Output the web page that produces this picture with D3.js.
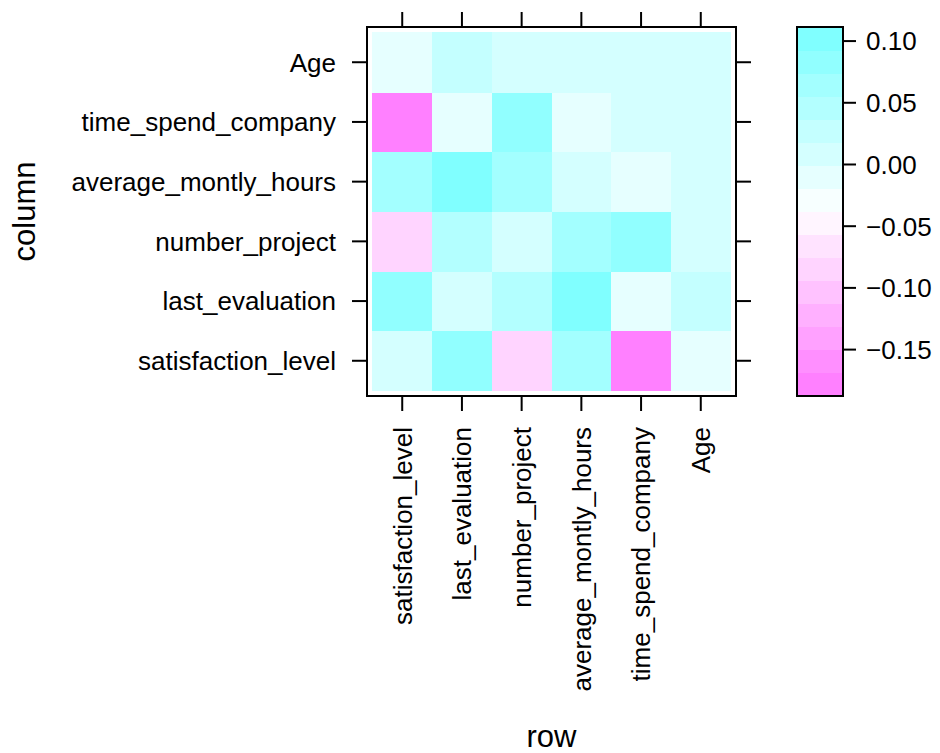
<!DOCTYPE html>
<html>
<head>
  <meta charset="UTF-8">
  <title>levelplot</title>
  <script src="https://d3js.org/d3.v7.min.js"></script>
  <style>
    body { margin: 0; padding: 0; background: #fff; }
    svg { display: block; font-family: "Liberation Sans", Arial, Helvetica, sans-serif; }
    .tick-label { font-size: 26px; fill: #000; }
    .axis-title { font-size: 31px; fill: #000; }
  </style>
</head>
<body>
  <div id="chart"></div>

  <script>
    // variable names, same order on both axes (x = "row", y = "column")
    const variables = ["satisfaction_level", "last_evaluation", "number_project",
                       "average_montly_hours", "time_spend_company", "Age"];

    // one array per y variable, values given in x order
    const satisfactionLevel  = [0.006, 0.083, -0.086, 0.064, -0.188, -0.010];
    const lastEvaluation     = [0.083, 0.006, 0.045, 0.111, -0.010, 0.027];
    const numberProject      = [-0.086, 0.045, 0.006, 0.064, 0.083, 0.006];
    const averageMontlyHours = [0.064, 0.111, 0.064, 0.006, -0.010, 0.006];
    const timeSpendCompany   = [-0.188, -0.010, 0.083, -0.010, 0.006, 0.006];
    const age                = [-0.010, 0.027, 0.006, 0.006, 0.006, 0.006];

    const legendTicks = [0.10, 0.05, 0.00, -0.05, -0.10, -0.15];

    const rowsByColumn = [satisfactionLevel, lastEvaluation, numberProject,
                          averageMontlyHours, timeSpendCompany, age];

    const cells = [];
    rowsByColumn.forEach((vals, yi) => {
      vals.forEach((v, xi) => {
        cells.push({ x: variables[xi], y: variables[yi], value: v });
      });
    });

    const width = 940, height = 753;
    const panel = { left: 367, right: 736, top: 27, bottom: 396 };
    const key = { left: 797, right: 843 };
    const nBins = 16;

    // cm.colors(100) reversed, sampled like lattice does for 16 intervals
    function cmColor(p) { // p: 1..100 index into rev(cm.colors(100))
      const j = 101 - p;
      if (j <= 50) {
        const s = 0.5 - (j - 1) * 0.01;
        return d3.rgb(Math.round((1 - s) * 255), 255, 255).formatHex();
      }
      const s = (j - 50) * 0.01;
      return d3.rgb(255, Math.round((1 - s) * 255), 255).formatHex();
    }
    const palette = d3.range(nBins).map(i => cmColor(Math.floor(1 + i * 99 / (nBins - 1))));

    const zExtent = d3.extent(cells, d => d.value);
    const color = d3.scaleQuantize().domain(zExtent).range(palette);
    const breaks = d3.range(nBins + 1).map(i => zExtent[0] + i * (zExtent[1] - zExtent[0]) / nBins);

    const svg = d3.select("#chart").append("svg")
      .attr("width", width)
      .attr("height", height);

    const x = d3.scaleBand()
      .domain(variables)
      .range([panel.left, panel.right])
      .paddingInner(0)
      .paddingOuter(0.09);

    const y = d3.scaleBand()
      .domain(variables)
      .range([panel.bottom, panel.top])
      .paddingInner(0)
      .paddingOuter(0.09);

    // heat cells
    svg.append("g")
      .selectAll("rect")
      .data(cells)
      .join("rect")
      .attr("x", d => x(d.x))
      .attr("y", d => y(d.y))
      .attr("width", x.bandwidth() + 0.5)
      .attr("height", y.bandwidth() + 0.5)
      .attr("fill", d => color(d.value))
      .attr("shape-rendering", "crispEdges");

    // axes (ticks on all four sides, labels only left and bottom)
    const tickLen = 15;
    const axisSize = g => g.call(a => a.select(".domain").remove())
      .selectAll(".tick line").attr("stroke", "#000").attr("stroke-width", 2);

    svg.append("g")
      .attr("transform", `translate(${panel.left},0)`)
      .call(d3.axisLeft(y).tickSize(tickLen).tickPadding(16))
      .call(axisSize)
      .selectAll("text")
        .attr("class", "tick-label")
        .attr("font-family", null)
        .attr("font-size", null)
        .attr("fill", "#000")
        .attr("dy", "0.36em");

    svg.append("g")
      .attr("transform", `translate(${panel.right},0)`)
      .call(d3.axisRight(y).tickSize(tickLen).tickFormat(""))
      .call(axisSize);

    svg.append("g")
      .attr("transform", `translate(0,${panel.top})`)
      .call(d3.axisTop(x).tickSize(tickLen).tickFormat(""))
      .call(axisSize);

    svg.append("g")
      .attr("transform", `translate(0,${panel.bottom})`)
      .call(d3.axisBottom(x).tickSize(tickLen).tickPadding(0))
      .call(axisSize)
      .selectAll("text")
        .attr("class", "tick-label")
        .attr("font-family", null)
        .attr("font-size", null)
        .attr("fill", "#000")
        .attr("transform", "rotate(-90)")
        .attr("x", -31)
        .attr("y", 0)
        .attr("dy", "0.36em")
        .style("text-anchor", "end");

    // panel frame
    svg.append("rect")
      .attr("x", panel.left)
      .attr("y", panel.top)
      .attr("width", panel.right - panel.left)
      .attr("height", panel.bottom - panel.top)
      .attr("fill", "none")
      .attr("stroke", "#000")
      .attr("stroke-width", 2);

    // colour key
    const ky = d3.scaleLinear().domain(zExtent).range([panel.bottom, panel.top]);

    svg.append("g")
      .selectAll("rect")
      .data(d3.range(nBins))
      .join("rect")
      .attr("x", key.left)
      .attr("width", key.right - key.left)
      .attr("y", i => ky(breaks[i + 1]))
      .attr("height", i => ky(breaks[i]) - ky(breaks[i + 1]) + 0.5)
      .attr("fill", i => palette[i])
      .attr("shape-rendering", "crispEdges");

    svg.append("g")
      .attr("transform", `translate(${key.right},0)`)
      .call(d3.axisRight(ky).tickValues(legendTicks).tickSize(13).tickPadding(10)
        .tickFormat(d => d3.format(".2f")(d).replace("-", "\u2212")))
      .call(axisSize)
      .selectAll("text")
        .attr("class", "tick-label")
        .attr("font-family", null)
        .attr("font-size", null)
        .attr("fill", "#000")
        .attr("dy", "0.36em");

    svg.append("rect")
      .attr("x", key.left)
      .attr("y", panel.top)
      .attr("width", key.right - key.left)
      .attr("height", panel.bottom - panel.top)
      .attr("fill", "none")
      .attr("stroke", "#000")
      .attr("stroke-width", 2);

    // axis titles
    svg.append("text")
      .attr("class", "axis-title")
      .attr("text-anchor", "middle")
      .attr("transform", `translate(35,${(panel.top + panel.bottom) / 2}) rotate(-90)`)
      .text("column");

    svg.append("text")
      .attr("class", "axis-title")
      .attr("text-anchor", "middle")
      .attr("x", (panel.left + panel.right) / 2)
      .attr("y", 747)
      .text("row");
  </script>
</body>
</html>
